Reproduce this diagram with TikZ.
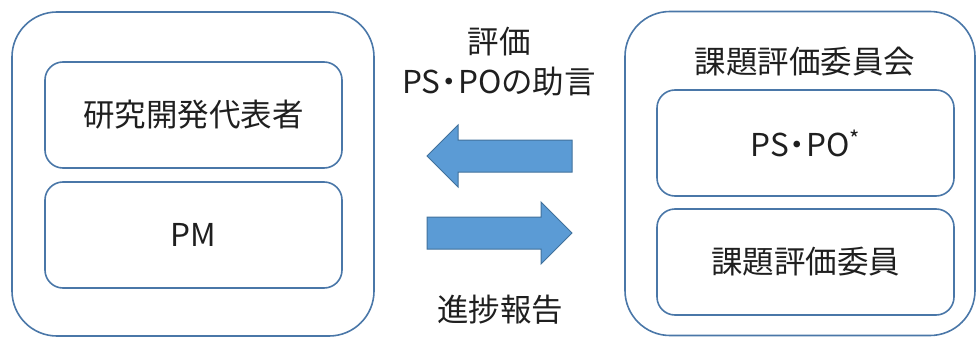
\documentclass[tikz,border=0pt]{standalone}
\usepackage{fontspec}
\setmainfont{Noto Sans CJK JP}
\usetikzlibrary{positioning,shapes.arrows}
\definecolor{boxline}{HTML}{4A77A8}
\definecolor{arrowfill}{HTML}{5B9BD5}
\definecolor{arrowline}{HTML}{41719C}
\newcommand{\middot}{\kern-.22em・\kern-.22em}

\begin{document}
\begin{tikzpicture}[x=1pt,y=1pt,
        every node/.style = {inner sep=0pt,outer sep=0pt,text=black!88,
            font=\fontsize{31.5}{40}\selectfont},
        groupbox/.style = {draw=boxline,line width=1.6pt,rounded corners=45pt,
            minimum height=324pt},
        rolebox/.style = {draw=boxline,line width=1.6pt,rounded corners=18pt,
            minimum width=297pt,minimum height=106pt},
        bluearrow/.style = {single arrow,draw=arrowline,fill=arrowfill,line width=1pt,
            inner xsep=0pt,inner ysep=15.5pt,minimum height=145pt,
            single arrow head extend=15pt,anchor=tip},
        ]
        \useasboundingbox (0,0) rectangle (977,338);
        % left side
        \node[groupbox,minimum width=362pt] (team) at (193,164) {};
        \node[rolebox] (leader) at (193.5,223) {研究開発代表者};
        \node[rolebox] (pm) [below=14pt of leader] {PM};
        % right side
        \node[groupbox,minimum width=350pt] (committee) at (800,164.5) {};
        \node (committee-title) at (805,276) {課題評価委員会};
        \node[rolebox] (pspo) at (805.5,195) {PS\middot PO\textsuperscript{*}};
        \node[rolebox] (members) [below=13pt of pspo] {課題評価委員};
        % arrows in between
        \node[bluearrow,shape border rotate=180] (feedback) at (427,182) {};
        \node[bluearrow] (report) at (572,105) {};
        \node[align=center] (feedback-text) at (499,276) {評価\\PS\middot POの助言};
        \node (report-text) at (500,28) {進捗報告};
    \end{tikzpicture}
\end{document}
